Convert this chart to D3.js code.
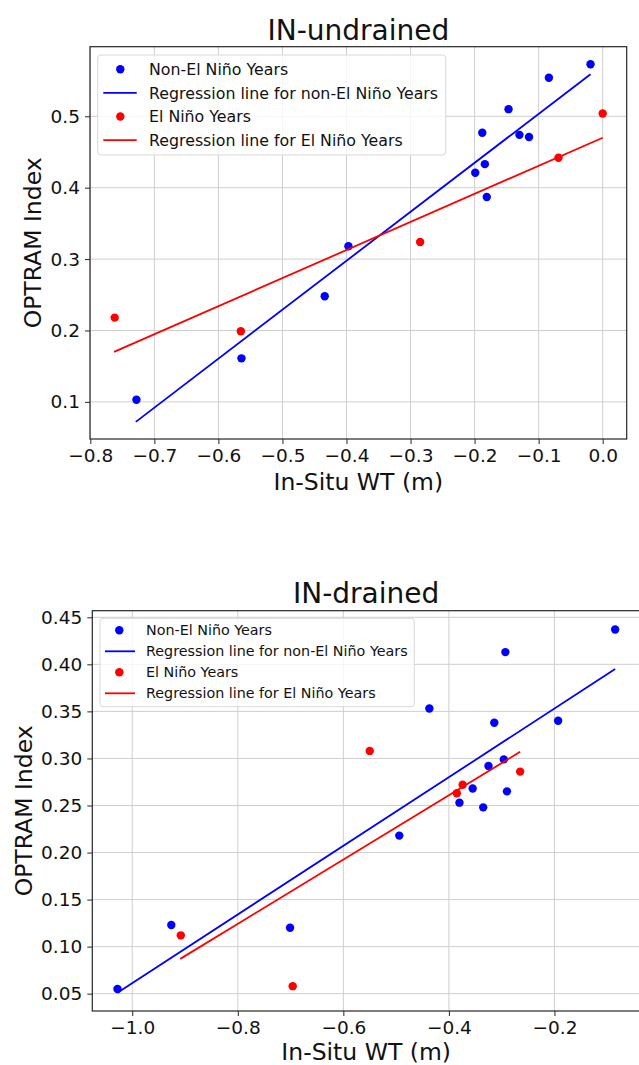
<!DOCTYPE html>
<html>
<head>
<meta charset="utf-8">
<script src="https://cdn.jsdelivr.net/npm/d3@7"></script>
<style>
  body { margin: 0; background: #fff; }
  svg { display: block; font-family: "DejaVu Sans", sans-serif; }
</style>
</head>
<body>
<svg id="chart" width="639" height="1065"></svg>
<script>
// ---- data: IN-undrained ----
var topNonElX = [-0.728, -0.564, -0.434, -0.397, -0.199, -0.188, -0.184, -0.181, -0.147, -0.130, -0.115, -0.084, -0.019];
var topNonElY = [0.103, 0.161, 0.248, 0.318, 0.421, 0.477, 0.433, 0.387, 0.510, 0.474, 0.471, 0.554, 0.573];
var topElX = [-0.762, -0.565, -0.285, -0.069, 0.000];
var topElY = [0.218, 0.199, 0.324, 0.442, 0.504];
var topNonElLine = [[-0.729, 0.072], [-0.019, 0.559]];
var topElLine = [[-0.763, 0.170], [0.000, 0.470]];
var topXTicks = [-0.8, -0.7, -0.6, -0.5, -0.4, -0.3, -0.2, -0.1, 0.0];
var topYTicks = [0.1, 0.2, 0.3, 0.4, 0.5];

// ---- data: IN-drained ----
var botNonElX = [-1.028, -0.926, -0.701, -0.494, -0.437, -0.380, -0.355, -0.335, -0.325, -0.314, -0.296, -0.293, -0.290, -0.193, -0.085];
var botNonElY = [0.055, 0.123, 0.120, 0.218, 0.353, 0.253, 0.268, 0.248, 0.292, 0.338, 0.299, 0.413, 0.265, 0.340, 0.437];
var botElX = [-0.908, -0.696, -0.550, -0.385, -0.374, -0.265];
var botElY = [0.112, 0.058, 0.308, 0.263, 0.272, 0.286];
var botNonElLine = [[-1.028, 0.051], [-0.085, 0.395]];
var botElLine = [[-0.909, 0.087], [-0.265, 0.307]];
var botXTicks = [-1.0, -0.8, -0.6, -0.4, -0.2];
var botYTicks = [0.05, 0.10, 0.15, 0.20, 0.25, 0.30, 0.35, 0.40, 0.45];

var legendLabels = ["Non-El Niño Years", "Regression line for non-El Niño Years",
                    "El Niño Years", "Regression line for El Niño Years"];

var BLUE = "#0000ff";
var RED = "#ff0000";
var GRID = "#cfcfcf";
var SPINE = "#262626";
var TICK_FONT = 18.5;
var LABEL_FONT = 23.5;

var fmtMinus = function(f) {
  return function(d) { return f(d).replace("-", "\u2212"); };
};

var panels = [
  {
    title: "IN-undrained",
    left: 90, right: 626.7, top: 46.7, bottom: 439,
    xDomain: [-0.8005, 0.0375], yDomain: [0.048, 0.5975],
    xTicks: topXTicks, yTicks: topYTicks,
    xFmt: fmtMinus(d3.format(".1f")), yFmt: d3.format(".1f"),
    nonX: topNonElX, nonY: topNonElY, elX: topElX, elY: topElY,
    nonLine: topNonElLine, elLine: topElLine,
    titleY: 40, xLabelY: 490, yLabelX: 41,
    legend: { x: 97.7, y: 55, w: 348, h: 100, row0: 69.3, step: 23.6,
              markX: 120.3, lineX0: 103.3, lineX1: 136.7, textX: 149, font: 15.8 }
  },
  {
    title: "IN-drained",
    left: 92.3, right: 640, top: 610.7, bottom: 1011,
    xDomain: [-1.0757, -0.0379], yDomain: [0.0316, 0.457],
    xTicks: botXTicks, yTicks: botYTicks,
    xFmt: fmtMinus(d3.format(".1f")), yFmt: d3.format(".2f"),
    nonX: botNonElX, nonY: botNonElY, elX: botElX, elY: botElY,
    nonLine: botNonElLine, elLine: botElLine,
    titleY: 603, xLabelY: 1060, yLabelX: 31.5,
    legend: { x: 100, y: 618.3, w: 314.3, h: 88.4, row0: 630.3, step: 21,
              markX: 119.3, lineX0: 105, lineX1: 135, textX: 146, font: 14.3 }
  }
];

var svg = d3.select("#chart");

var drawPanel = function(p) {
  var x = d3.scaleLinear().domain(p.xDomain).range([p.left, p.right]);
  var y = d3.scaleLinear().domain(p.yDomain).range([p.bottom, p.top]);
  var g = svg.append("g");

  // grid
  g.selectAll(".vgrid").data(p.xTicks).enter().append("line")
    .attr("x1", function(d) { return x(d); }).attr("x2", function(d) { return x(d); })
    .attr("y1", p.top).attr("y2", p.bottom)
    .attr("stroke", GRID).attr("stroke-width", 1);
  g.selectAll(".hgrid").data(p.yTicks).enter().append("line")
    .attr("x1", p.left).attr("x2", p.right)
    .attr("y1", function(d) { return y(d); }).attr("y2", function(d) { return y(d); })
    .attr("stroke", GRID).attr("stroke-width", 1);

  // axes
  var xAxis = g.append("g")
    .attr("transform", "translate(0," + p.bottom + ")")
    .call(d3.axisBottom(x).tickValues(p.xTicks).tickFormat(p.xFmt).tickSize(5).tickPadding(5).tickSizeOuter(0));
  var yAxis = g.append("g")
    .attr("transform", "translate(" + p.left + ",0)")
    .call(d3.axisLeft(y).tickValues(p.yTicks).tickFormat(p.yFmt).tickSize(5).tickPadding(5).tickSizeOuter(0));
  [xAxis, yAxis].forEach(function(a) {
    a.select(".domain").remove();
    a.selectAll(".tick line").attr("stroke", SPINE).attr("stroke-width", 1);
    a.selectAll(".tick text")
      .attr("font-family", "DejaVu Sans").attr("font-size", TICK_FONT).attr("fill", "#111");
  });

  // frame
  g.append("rect")
    .attr("x", p.left).attr("y", p.top)
    .attr("width", p.right - p.left).attr("height", p.bottom - p.top)
    .attr("fill", "none").attr("stroke", SPINE).attr("stroke-width", 1.2);

  var lineGen = d3.line()
    .x(function(d) { return x(d[0]); })
    .y(function(d) { return y(d[1]); });

  // non-El Niño
  g.selectAll(".dot-non").data(d3.zip(p.nonX, p.nonY)).enter().append("circle")
    .attr("cx", function(d) { return x(d[0]); })
    .attr("cy", function(d) { return y(d[1]); })
    .attr("r", 4.2).attr("fill", BLUE);
  g.append("path").datum(p.nonLine)
    .attr("d", lineGen).attr("stroke", BLUE).attr("stroke-width", 1.8).attr("fill", "none");

  // El Niño
  g.selectAll(".dot-el").data(d3.zip(p.elX, p.elY)).enter().append("circle")
    .attr("cx", function(d) { return x(d[0]); })
    .attr("cy", function(d) { return y(d[1]); })
    .attr("r", 4.2).attr("fill", RED);
  g.append("path").datum(p.elLine)
    .attr("d", lineGen).attr("stroke", RED).attr("stroke-width", 1.8).attr("fill", "none");

  // titles / labels
  var cx = (p.left + p.right) / 2;
  var cy = (p.top + p.bottom) / 2;
  g.append("text").attr("x", cx).attr("y", p.titleY)
    .attr("text-anchor", "middle").attr("font-size", 28).attr("fill", "#111")
    .text(p.title);
  g.append("text").attr("x", cx).attr("y", p.xLabelY)
    .attr("text-anchor", "middle").attr("font-size", LABEL_FONT).attr("fill", "#111")
    .text("In-Situ WT (m)");
  g.append("text")
    .attr("transform", "translate(" + p.yLabelX + "," + cy + ") rotate(-90)")
    .attr("text-anchor", "middle").attr("font-size", LABEL_FONT).attr("fill", "#111")
    .text("OPTRAM Index");

  // legend
  var L = p.legend;
  var lg = g.append("g");
  lg.append("rect")
    .attr("x", L.x).attr("y", L.y).attr("width", L.w).attr("height", L.h)
    .attr("rx", 3).attr("fill", "#fff").attr("fill-opacity", 0.8)
    .attr("stroke", "#d8d8d8").attr("stroke-width", 1);
  var kinds = ["dot", "line", "dot", "line"];
  var colors = [BLUE, BLUE, RED, RED];
  legendLabels.forEach(function(label, i) {
    var ry = L.row0 + i * L.step;
    if (kinds[i] == "dot") {
      lg.append("circle").attr("cx", L.markX).attr("cy", ry).attr("r", 4.2).attr("fill", colors[i]);
    } else {
      lg.append("line").attr("x1", L.lineX0).attr("x2", L.lineX1)
        .attr("y1", ry).attr("y2", ry)
        .attr("stroke", colors[i]).attr("stroke-width", 1.8);
    }
    lg.append("text").attr("x", L.textX).attr("y", ry)
      .attr("dy", "0.36em").attr("font-size", L.font).attr("fill", "#111")
      .text(label);
  });
};

panels.forEach(drawPanel);
</script>
</body>
</html>
